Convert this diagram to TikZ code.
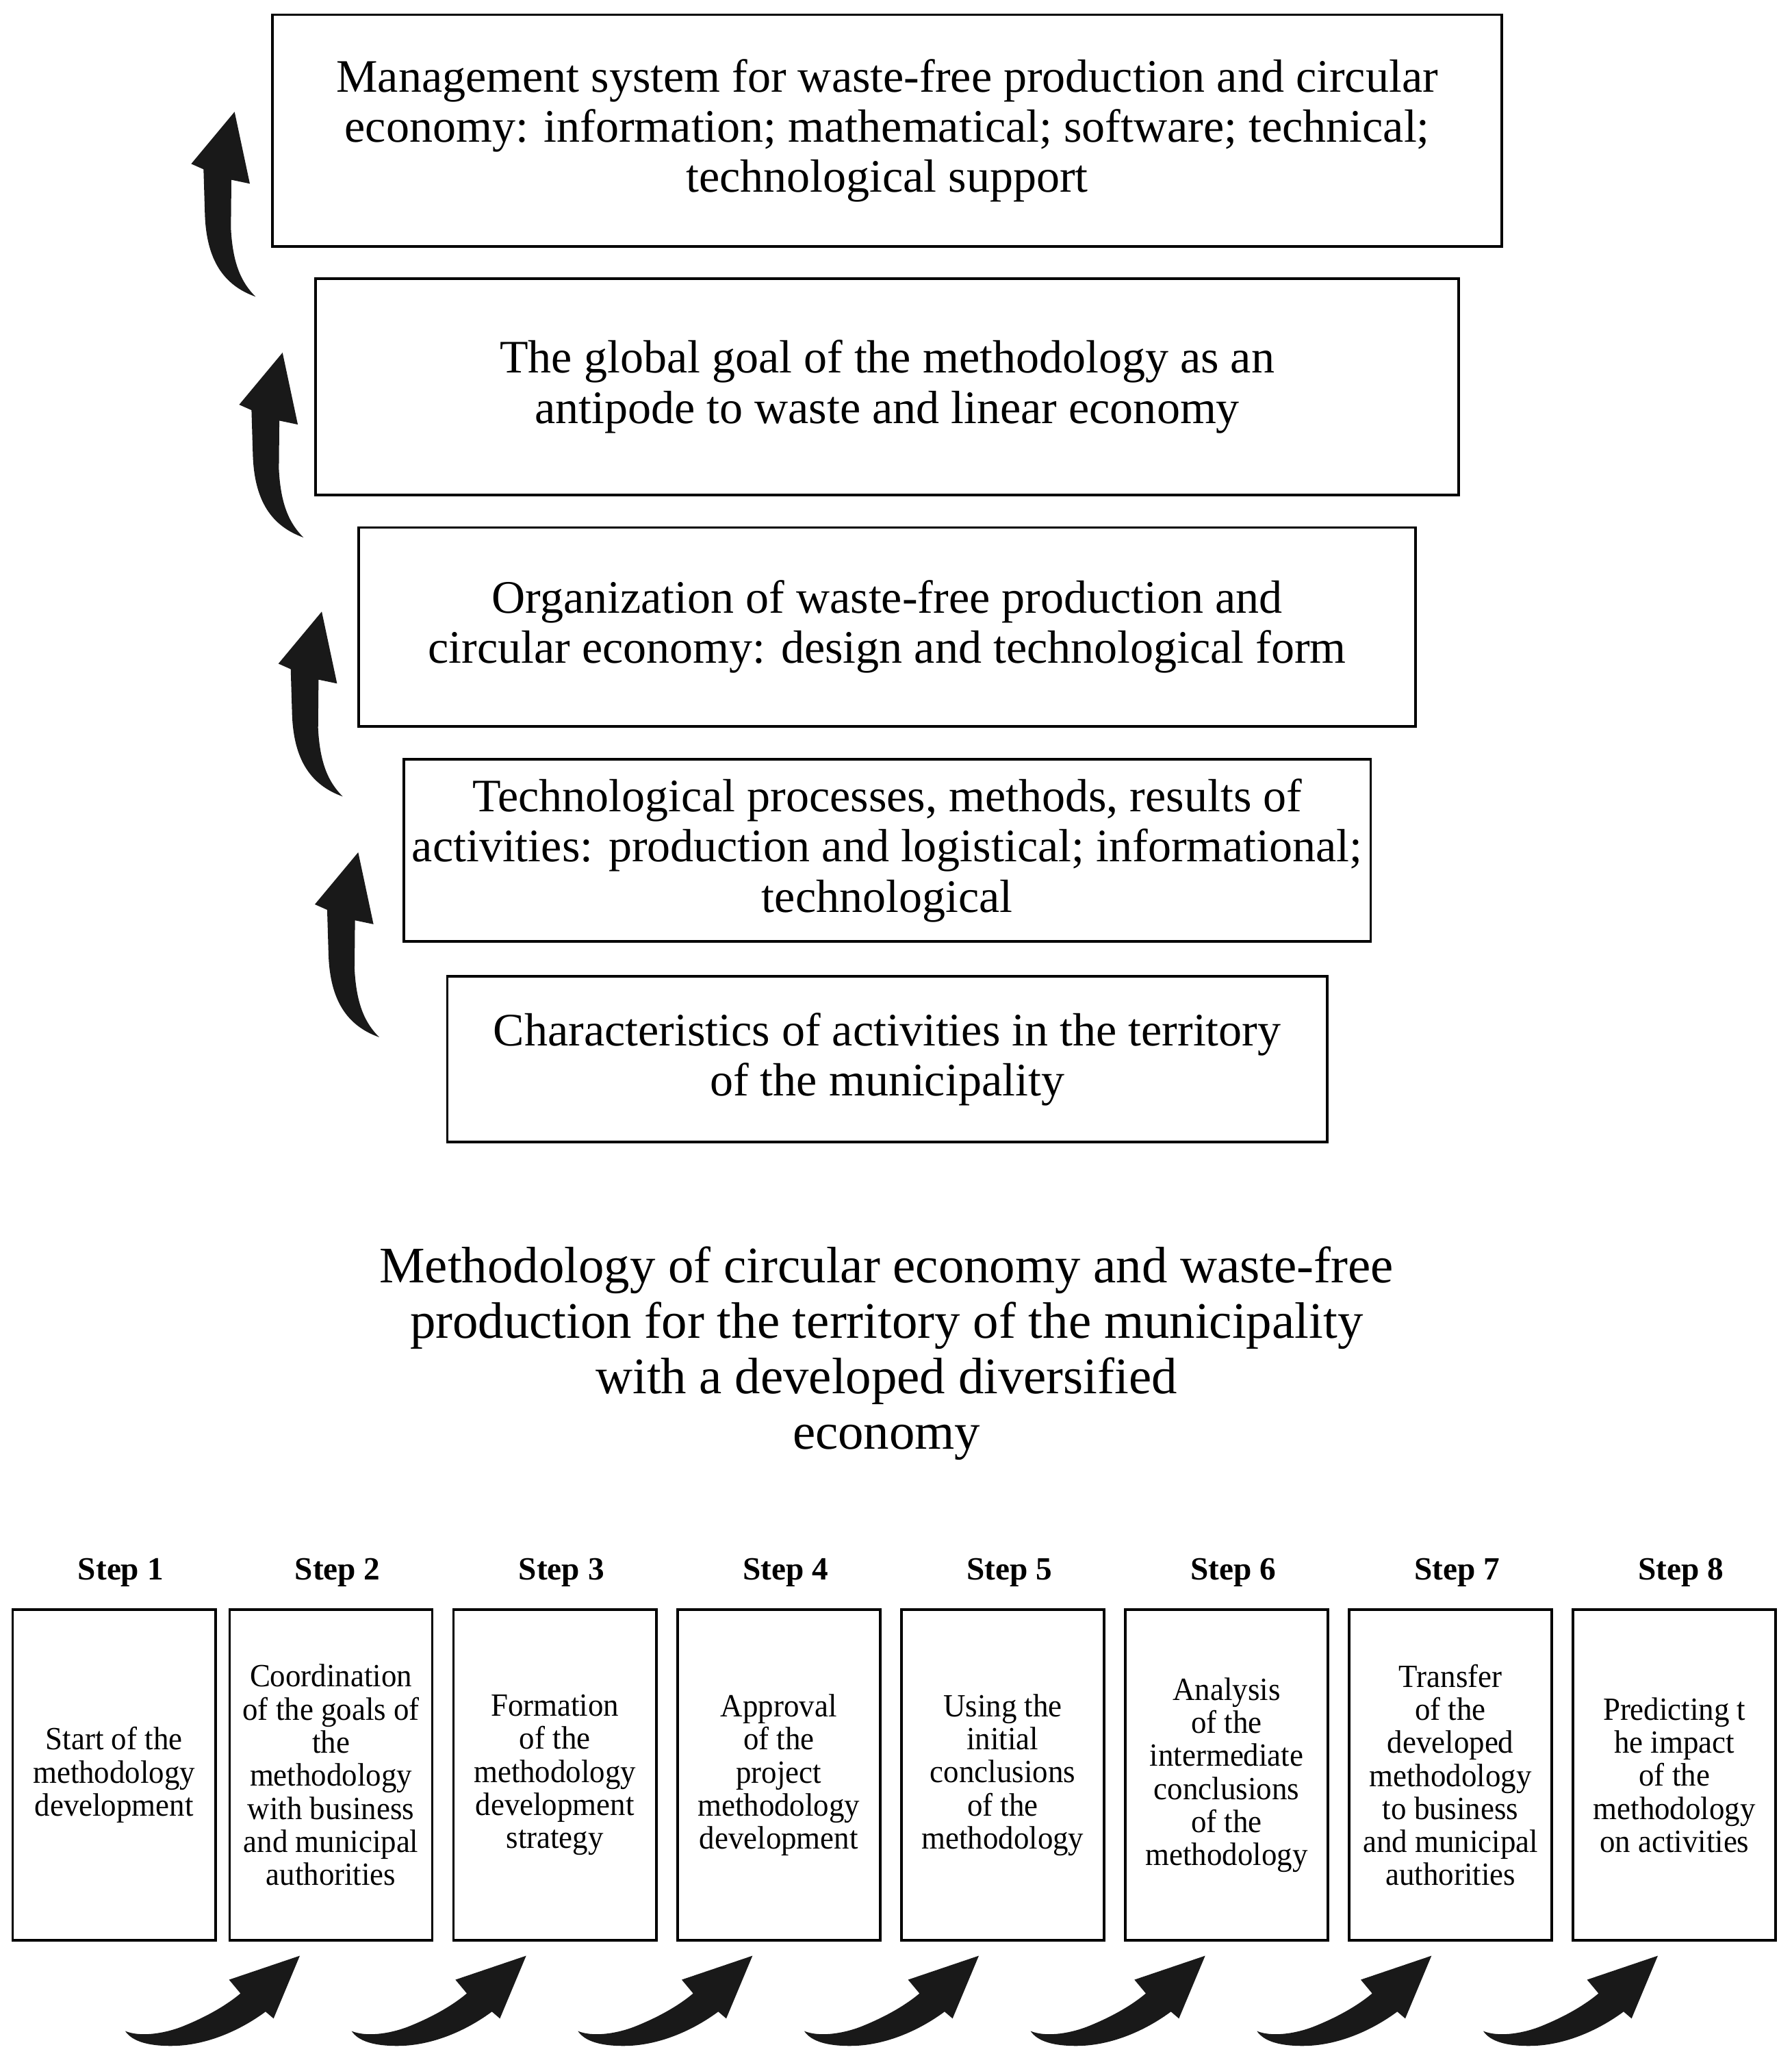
\documentclass[tikz,border=0pt]{standalone}
\usepackage{fontspec}
\setmainfont{Liberation Serif}
\newfontfamily\narrowserif[FakeStretch=0.95]{Liberation Serif}
\usetikzlibrary{positioning,calc}

\begin{document}
\begin{tikzpicture}[x=0.02cm,y=-0.02cm]
    \tikzstyle{level}=[draw, line width=1.1pt, inner sep=0pt, outer sep=0pt, align=center, font=\fontsize{20}{21.6}\selectfont]
    \tikzstyle{stepbox}=[draw, line width=1.1pt, inner sep=0pt, outer sep=0pt, align=center, minimum width=3.06cm, minimum height=4.99cm, font=\narrowserif\fontsize{13.9}{14.2}\selectfont]
    \tikzstyle{steplabel}=[inner sep=0pt, font=\fontsize{13.9}{14.2}\selectfont\bfseries]
    \tikzstyle{blockarrow}=[fill=black!90, draw=none]
    \useasboundingbox (0,0) rectangle (1351.8,1561);

    % levels, top to bottom
    \node (L1) [level, minimum width=18.56cm, minimum height=3.5cm] at (669.5,98.6) {Management system for waste-free production and circular\\economy: information; mathematical; software; technical;\\technological support};
    \node (L2) [level, minimum width=17.26cm, minimum height=3.26cm, below=0.486cm of L1] {The global goal of the methodology as an\\antipode to waste and linear economy};
    \node (L3) [level, minimum width=15.95cm, minimum height=3cm, below=0.492cm of L2] {Organization of waste-free production and\\circular economy: design and technological form};
    \node (L4) [level, minimum width=14.6cm, minimum height=2.75cm, below=0.5cm of L3] {Technological processes, methods, results of\\activities: production and logistical; informational;\\technological};
    \node (L5) [level, minimum width=13.28cm, minimum height=2.5cm, below=0.526cm of L4] {Characteristics of activities in the territory\\of the municipality};

    % curved arrows on the left
    \foreach \ox/\oy in {134.3/72.3, 170.5/254, 200.1/449.4, 227.6/631}
        \fill[blockarrow, shift={(\ox,\oy)}, scale=0.1722] (340,880) .. controls (200,830) and (125,720) .. (118,520) -- (112,322) -- (58,298) -- (248,70) -- (315,385) -- (234,368) -- (232,580) .. controls (240,740) and (280,820) .. cycle;

    \node (Title) [align=center, inner sep=0pt, font=\fontsize{22}{23.8}\selectfont] at (669,1021) {Methodology of circular economy and waste-free\\production for the territory of the municipality\\with a developed diversified\\economy};

    % steps
    \node (S1) [stepbox] at (86.1,1339.2) {Start of the\\methodology\\development};
    \node (S2) [stepbox, right=0.214cm of S1] {Coordination\\of the goals of\\the\\methodology\\with business\\and municipal\\authorities};
    \node (S3) [stepbox, right=0.32cm of S2] {Formation\\of the\\methodology\\development\\strategy};
    \node (S4) [stepbox, right=0.32cm of S3] {Approval\\of the\\project\\methodology\\development};
    \node (S5) [stepbox, right=0.32cm of S4] {Using the\\initial\\conclusions\\of the\\methodology};
    \node (S6) [stepbox, right=0.32cm of S5] {Analysis\\of the\\intermediate\\conclusions\\of the\\methodology};
    \node (S7) [stepbox, right=0.32cm of S6] {Transfer\\of the\\developed\\methodology\\to business\\and municipal\\authorities};
    \node (S8) [stepbox, right=0.32cm of S7] {Predicting t\\he impact\\of the\\methodology\\on activities};

    \node (T1) [steplabel, above=0.34cm of S1, xshift=0.1cm] {Step 1};
    \node (T2) [steplabel, above=0.34cm of S2, xshift=0.1cm] {Step 2};
    \node (T3) [steplabel, above=0.34cm of S3, xshift=0.1cm] {Step 3};
    \node (T4) [steplabel, above=0.34cm of S4, xshift=0.1cm] {Step 4};
    \node (T5) [steplabel, above=0.34cm of S5, xshift=0.1cm] {Step 5};
    \node (T6) [steplabel, above=0.34cm of S6, xshift=0.1cm] {Step 6};
    \node (T7) [steplabel, above=0.34cm of S7, xshift=0.1cm] {Step 7};
    \node (T8) [steplabel, above=0.34cm of S8, xshift=0.1cm] {Step 8};

    % swoosh arrows under the steps
    \foreach \ox in {77.3, 248.1, 418.9, 589.7, 760.5, 931.3, 1102.1}
        \fill[blockarrow, shift={(\ox,1472.1)}, scale=0.1722] (100,350) .. controls (160,375) and (260,365) .. (350,330) .. controls (450,290) and (540,240) .. (605,185) -- (555,125) -- (865,20) -- (750,295) -- (715,265) .. controls (600,350) and (450,415) .. (300,415) .. controls (200,415) and (130,395) .. cycle;

\end{tikzpicture}
\end{document}
